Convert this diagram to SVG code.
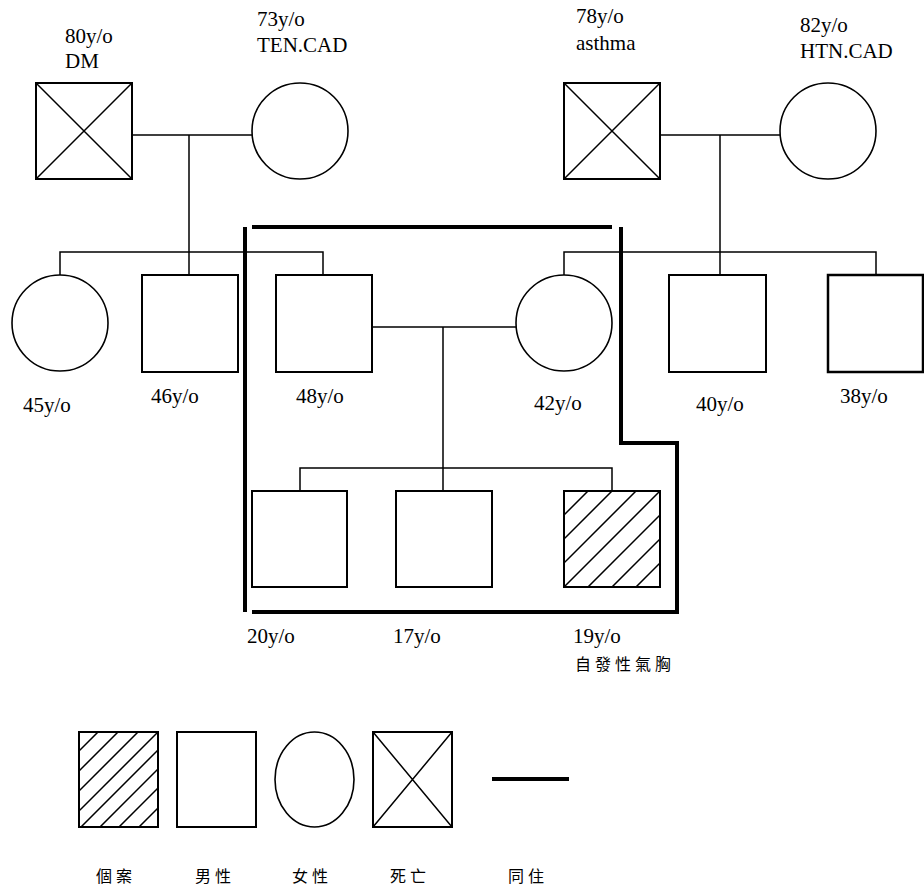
<svg xmlns="http://www.w3.org/2000/svg" width="924" height="892" viewBox="0 0 924 892">
<style>
.sq{fill:#fff;stroke:#000;stroke-width:2}
.ci{fill:#fff;stroke:#000;stroke-width:1.6}
.ln{fill:none;stroke:#000;stroke-width:1.5}
.th{fill:none;stroke:#000;stroke-width:4}
.tx{font-family:'Liberation Serif','Times New Roman',Times,serif;font-size:21px;fill:#000}
.cj{font-family:'Noto Sans CJK TC','Noto Sans CJK SC',sans-serif;font-size:16px;fill:#000;letter-spacing:4px}
</style>
<defs>
<clipPath id="c19"><rect x="564" y="491" width="96" height="96"/></clipPath>
<clipPath id="cLg"><rect x="79" y="732" width="79" height="95"/></clipPath>
</defs>
<rect width="924" height="892" fill="#fff"/>
<g id="connectors">
<path class="ln" d="M132 135H252M189 135V275M60 275V252H323V275"/>
<path class="ln" d="M660 135H780M720 135V275M564 275V252H876V275"/>
<path class="ln" d="M372 327H516M443 327V491M300 491V468H612V491"/>
</g>
<g id="household">
<path class="th" d="M245 227V612M252 227H612M621 227V443H677V612H252"/>
</g>
<g id="gf1"><rect class="sq" x="36" y="83" width="96" height="96"/><path class="ln" d="M36 83L132 179M132 83L36 179"/><text class="tx" x="65" y="43">80y/o</text><text class="tx" x="65" y="68">DM</text></g>
<g id="gm1"><circle class="ci" cx="300" cy="131" r="48"/><text class="tx" x="257" y="26">73y/o</text><text class="tx" x="257" y="52">TEN.CAD</text></g>
<g id="gf2"><rect class="sq" x="564" y="83" width="96" height="96"/><path class="ln" d="M564 83L660 179M660 83L564 179"/><text class="tx" x="576" y="23">78y/o</text><text class="tx" x="576" y="50">asthma</text></g>
<g id="gm2"><circle class="ci" cx="828" cy="131" r="48"/><text class="tx" x="800" y="32">82y/o</text><text class="tx" x="800" y="58">HTN.CAD</text></g>
<g id="a45"><circle class="ci" cx="60" cy="323" r="48"/><text class="tx" x="23" y="412">45y/o</text></g>
<g id="u46"><rect class="sq" x="142" y="275" width="96" height="97"/><text class="tx" x="151" y="403">46y/o</text></g>
<g id="f48"><rect class="sq" x="276" y="275" width="96" height="97"/><text class="tx" x="296" y="403">48y/o</text></g>
<g id="m42"><circle class="ci" cx="564" cy="323" r="48"/><text class="tx" x="534" y="410">42y/o</text></g>
<g id="u40"><rect class="sq" x="669" y="275" width="97" height="97"/><text class="tx" x="696" y="411">40y/o</text></g>
<g id="u38"><rect class="sq" x="828" y="275" width="95" height="97" style="stroke-width:2.5"/><text class="tx" x="840" y="403">38y/o</text></g>
<g id="b20"><rect class="sq" x="252" y="491" width="95" height="96"/><text class="tx" x="247" y="643">20y/o</text></g>
<g id="b17"><rect class="sq" x="396" y="491" width="96" height="96"/><text class="tx" x="393" y="643">17y/o</text></g>
<g id="p19"><rect class="sq" x="564" y="491" width="96" height="96"/>
<g clip-path="url(#c19)"><path class="ln" d="M464 615L688 391M488 615L712 391M512 615L736 391M536 615L760 391M560 615L784 391M584 615L808 391M608 615L832 391"/></g>
<rect x="564" y="491" width="96" height="96" fill="none" stroke="#000" stroke-width="2"/>
<text class="tx" x="573" y="643">19y/o</text><text class="cj" x="575" y="670">自發性氣胸</text></g>
<g id="legend">
<g id="lg-case"><rect class="sq" x="79" y="732" width="79" height="95"/>
<g clip-path="url(#cLg)"><path class="ln" d="M0 830L200 630M0 850L200 650M0 870L200 670M0 890L200 690M0 908L200 708M0 927L200 727M0 946L200 746M0 966L200 766"/></g>
<rect x="79" y="732" width="79" height="95" fill="none" stroke="#000" stroke-width="2"/>
<text class="cj" x="96" y="882">個案</text></g>
<g id="lg-male"><rect class="sq" x="177" y="732" width="79" height="95"/><text class="cj" x="195" y="882">男性</text></g>
<g id="lg-female"><ellipse class="ci" cx="314.5" cy="779.5" rx="39.5" ry="47.5"/><text class="cj" x="292" y="882">女性</text></g>
<g id="lg-dead"><rect class="sq" x="373" y="732" width="79" height="95"/><path class="ln" d="M373 732L452 827M452 732L373 827"/><text class="cj" x="390" y="882">死亡</text></g>
<g id="lg-live"><path class="th" d="M492 779H569"/><text class="cj" x="508" y="882">同住</text></g>
</g>
</svg>
